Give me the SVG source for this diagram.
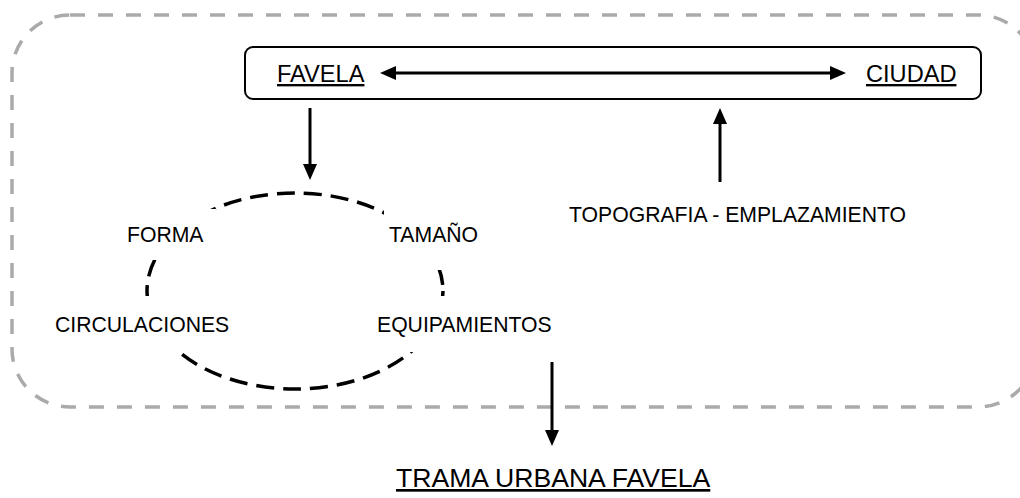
<svg xmlns="http://www.w3.org/2000/svg" width="1020" height="498" viewBox="0 0 1020 498">
  <style>
    text { font-family: "Liberation Sans", Arial, sans-serif; fill: #000; }
    .lbl { font-size: 21.2px; }
    .big { font-size: 23.6px; text-decoration: underline; }
    .title { font-size: 26.6px; text-decoration: underline; }
    .conn { stroke: #000; stroke-width: 3; fill: none; }
    .mask { fill: #fff; stroke: none; }
  </style>
  <defs>
    <marker id="ah" viewBox="0 0 16 14" refX="0" refY="7" markerWidth="16" markerHeight="14" markerUnits="userSpaceOnUse" orient="auto-start-reverse">
      <path d="M0,0 L16,7 L0,14 Z" fill="#000"/>
    </marker>
  </defs>
  <rect x="0" y="0" width="1020" height="498" fill="#fff"/>

  <g id="boundary">
    <rect x="12" y="15" width="1024" height="392" rx="58" ry="58" fill="none" stroke="#aaaaaa" stroke-width="3.5" stroke-dasharray="15 13"/>
  </g>

  <g id="favela-ciudad">
    <rect x="245" y="47" width="736" height="52" rx="8" ry="8" fill="#fff" stroke="#000" stroke-width="2"/>
    <text class="big" x="277" y="82">FAVELA</text>
    <text class="big" x="866" y="82">CIUDAD</text>
  </g>

  <g id="connectors">
    <line class="conn" x1="396" y1="73" x2="830" y2="73" marker-start="url(#ah)" marker-end="url(#ah)"/>
    <line class="conn" x1="310" y1="108" x2="310" y2="164" marker-end="url(#ah)"/>
    <line class="conn" x1="720" y1="182" x2="720" y2="124" marker-end="url(#ah)"/>
    <line class="conn" x1="552" y1="362" x2="552" y2="430" marker-end="url(#ah)"/>
  </g>

  <g id="cycle">
    <ellipse cx="295" cy="291" rx="148" ry="98" fill="none" stroke="#000" stroke-width="3.5" stroke-dasharray="18 9"/>
  </g>

  <g id="forma">
    <rect class="mask" x="120" y="209" width="96" height="51"/>
    <text class="lbl" x="127" y="242">FORMA</text>
  </g>
  <g id="tamano">
    <rect class="mask" x="384" y="209" width="106" height="61"/>
    <text class="lbl" x="389" y="242">TAMAÑO</text>
  </g>
  <g id="circulaciones">
    <rect class="mask" x="48" y="296" width="192" height="56"/>
    <text class="lbl" x="55" y="332">CIRCULACIONES</text>
  </g>
  <g id="equipamientos">
    <rect class="mask" x="370" y="296" width="182" height="56"/>
    <text class="lbl" x="377" y="332">EQUIPAMIENTOS</text>
  </g>
  <g id="topografia">
    <text class="lbl" x="569" y="222">TOPOGRAFIA - EMPLAZAMIENTO</text>
  </g>
  <g id="trama">
    <text class="title" x="396" y="487">TRAMA URBANA FAVELA</text>
  </g>
</svg>
